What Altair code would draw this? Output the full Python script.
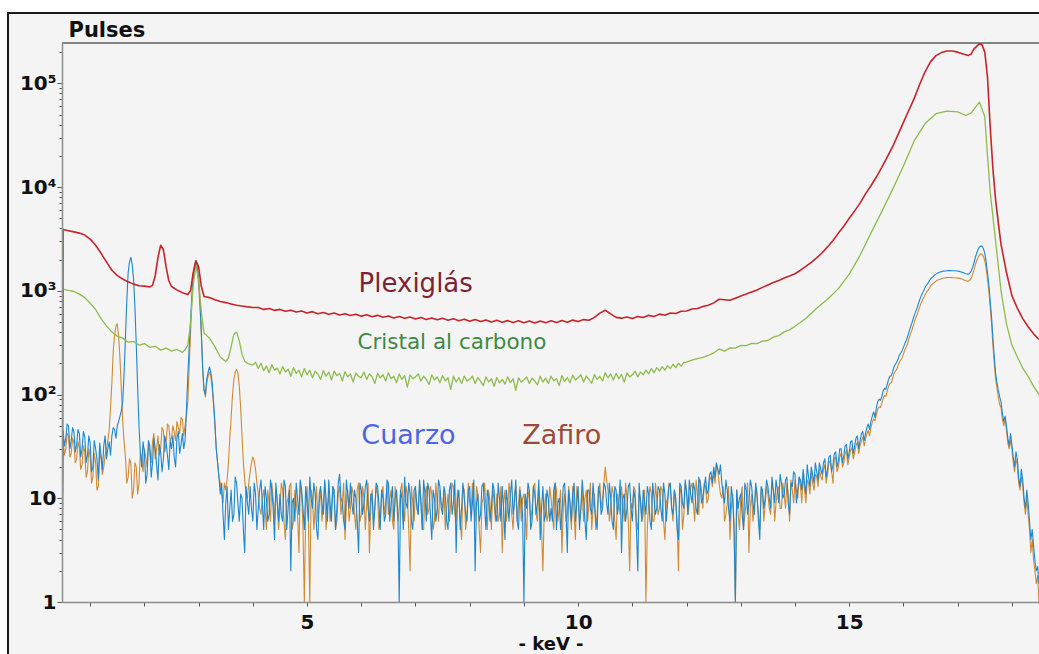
import altair as alt
import pandas as pd

# ---------------------------------------------------------------------------
# XRF background spectra of four sample holders (counts per channel vs keV)
# ---------------------------------------------------------------------------

# Cuarzo and Zafiro: channels every 0.05 keV from 0.5 keV, plus the
# intermediate channels (0.525, 0.575, ...) held in the *_MID lists
GRID_START = 0.5
GRID_STEP = 0.05
EDGE_KEV = 0.48  # first (empty) channel at the left edge of the window

CUARZO = [
    45, 38, 50, 36, 44, 33, 42, 30, 39, 26, 34, 20, 30, 15, 26, 32, 24, 35, 40, 46,
    50, 62, 85, 350, 1500, 2100, 1300, 300, 50, 20, 28, 17, 32, 22, 30, 15, 28, 24, 34, 19,
    30, 25, 38, 27, 42, 36, 150, 500, 1400, 1950, 1300, 400, 110, 140, 185, 130, 55, 22, 11, 7,
    9, 5, 12, 7, 14, 6, 10, 3, 9, 13, 6, 11, 8, 15, 5, 10, 7, 12, 4, 9,
    11, 6, 13, 8, 2, 10, 14, 7, 12, 5, 9, 16, 8, 11, 4, 13, 7, 10, 15, 6,
    12, 8, 17, 9, 5, 11, 14, 7, 10, 3, 12, 9, 15, 6, 11, 8, 13, 5, 10, 7,
    14, 9, 6, 12, 1, 10, 16, 8, 11, 5, 13, 7, 9, 15, 6, 12, 4, 10, 8, 13,
    7, 11, 5, 14, 9, 3, 12, 8, 10, 6, 13, 9, 2, 11, 7, 14, 5, 10, 8, 12,
    6, 10, 13, 4, 9, 11, 7, 15, 5, 10, 1, 8, 12, 6, 11, 9, 4, 13, 7, 10,
    8, 12, 5, 10, 7, 14, 3, 9, 11, 6, 13, 8, 10, 4, 12, 7, 9, 5, 11, 8,
    13, 7, 10, 5, 12, 9, 3, 11, 8, 14, 6, 10, 2, 9, 12, 7, 11, 5, 10, 8,
    12, 6, 11, 9, 14, 7, 10, 4, 13, 8, 11, 15, 9, 12, 7, 14, 10, 16, 12, 18,
    20, 22, 17, 14, 9, 12, 6, 10, 1, 8, 11, 5, 12, 9, 13, 7, 11, 4, 12, 10,
    13, 8, 12, 15, 9, 14, 11, 16, 7, 13, 17, 12, 15, 19, 11, 16, 20, 14, 18, 22,
    17, 24, 19, 26, 21, 28, 23, 30, 26, 33, 28, 36, 32, 40, 36, 44, 42, 52, 55, 68,
    75, 90, 95, 115, 125, 150, 165, 195, 220, 250, 285, 330, 400, 480, 580, 680, 820, 950, 1080, 1180,
    1300, 1380, 1450, 1500, 1530, 1550, 1560, 1570, 1560, 1560, 1550, 1530, 1500, 1460, 1450, 1550, 1850, 2300, 2650, 2700,
    2300, 1500, 800, 350, 160, 110, 85, 55, 50, 32, 33, 20, 24, 13, 15, 8, 9, 4, 3.5, 2,
    1.5,
]

CUARZO_MID = [
    32, 52, 30, 48, 28, 46, 25, 44, 22, 40, 18, 36, 24, 34, 19, 40, 30, 26, 48, 38,
    55, 70, 160, 800, 1900, 1800, 700, 120, 28, 35, 14, 36, 16, 38, 21, 33, 18, 40, 26, 36,
    40, 20, 44, 33, 30, 70, 280, 900, 1800, 1700, 800, 180, 100, 165, 165, 85, 30, 16, 14, 4,
    13, 8, 6, 16, 9, 11, 5, 13, 7, 8, 14, 5, 12, 9, 13, 6, 15, 8, 14, 6,
    7, 15, 5, 12, 9, 6, 10, 15, 8, 13, 6, 10, 14, 5, 11, 9, 15, 6, 9, 13,
    5, 14, 10, 6, 15, 8, 9, 12, 6, 14, 7, 13, 8, 11, 5, 14, 9, 12, 6, 15,
    6, 13, 10, 7, 12, 5, 9, 14, 6, 12, 8, 15, 5, 11, 14, 7, 12, 6, 15, 8,
    13, 6, 12, 7, 15, 10, 5, 14, 7, 12, 6, 15, 9, 6, 13, 8, 12, 6, 14, 7,
    14, 6, 8, 12, 6, 15, 9, 6, 12, 7, 11, 14, 5, 13, 7, 15, 8, 6, 12, 6,
    6, 14, 9, 5, 13, 8, 12, 6, 14, 9, 5, 15, 6, 12, 8, 14, 6, 13, 7, 14,
    9, 14, 6, 13, 7, 15, 10, 6, 13, 8, 12, 5, 14, 6, 9, 13, 6, 14, 7, 13,
    8, 14, 6, 13, 8, 12, 5, 14, 9, 15, 7, 11, 14, 8, 16, 9, 13, 11, 17, 14,
    16, 19, 21, 11, 15, 8, 13, 5, 12, 10, 7, 14, 7, 15, 9, 14, 6, 13, 8, 15,
    10, 16, 9, 12, 17, 10, 15, 9, 14, 18, 9, 16, 12, 14, 21, 13, 17, 22, 15, 19,
    22, 16, 25, 18, 27, 20, 30, 22, 32, 24, 35, 27, 38, 30, 42, 36, 48, 46, 62, 60,
    85, 88, 108, 112, 140, 152, 185, 205, 240, 265, 310, 360, 440, 530, 630, 750, 890, 1010, 1130, 1240,
    1340, 1420, 1480, 1520, 1540, 1555, 1565, 1565, 1560, 1555, 1540, 1515, 1480, 1450, 1490, 1680, 2100, 2500, 2700, 2550,
    1900, 1150, 560, 230, 130, 95, 65, 62, 38, 42, 25, 28, 16, 19, 10, 12, 6, 5, 2.5, 2.2,
]

ZAFIRO = [
    36, 30, 40, 27, 34, 24, 31, 21, 28, 18, 25, 16, 22, 13, 24, 20, 30, 45, 130, 380,
    480, 220, 55, 25, 16, 22, 12, 20, 14, 24, 30, 20, 28, 35, 24, 40, 30, 45, 34, 50,
    38, 44, 55, 42, 58, 50, 85, 380, 1250, 1750, 1150, 380, 110, 130, 165, 115, 50, 22, 14, 9,
    12, 22, 60, 140, 175, 120, 40, 15, 10, 18, 25, 19, 11, 7, 12, 5, 9, 14, 6, 10,
    8, 12, 4, 10, 14, 6, 9, 3, 11, 1, 13, 1, 10, 8, 6, 12, 9, 5, 11, 8,
    10, 6, 13, 9, 4, 12, 8, 11, 5, 14, 7, 10, 9, 3, 12, 8, 11, 6, 13, 9,
    7, 12, 5, 10, 8, 14, 6, 11, 2, 9, 12, 7, 10, 5, 13, 8, 11, 6, 9, 12,
    8, 5, 11, 9, 13, 6, 10, 4, 12, 7, 9, 14, 6, 11, 3, 10, 8, 12, 5, 9,
    11, 7, 3, 12, 8, 10, 5, 13, 9, 6, 11, 4, 10, 8, 14, 6, 9, 2, 11, 7,
    10, 5, 12, 8, 3, 11, 7, 9, 13, 4, 10, 8, 6, 12, 9, 5, 11, 7, 14, 10,
    20, 12, 8, 11, 4, 9, 13, 6, 10, 2, 8, 12, 5, 10, 7, 1, 9, 11, 6, 10,
    8, 12, 4, 10, 13, 6, 9, 2, 11, 7, 12, 9, 14, 6, 11, 15, 8, 13, 10, 16,
    18, 21, 14, 10, 6, 9, 4, 11, 1, 7, 10, 5, 9, 3, 11, 8, 10, 5, 11, 9,
    11, 7, 12, 9, 13, 8, 11, 14, 6, 12, 15, 10, 13, 17, 9, 14, 18, 12, 16, 19,
    15, 21, 17, 23, 14, 25, 20, 27, 22, 29, 25, 31, 28, 35, 32, 39, 37, 45, 48, 58,
    64, 76, 82, 98, 108, 128, 142, 168, 190, 215, 245, 285, 345, 410, 500, 585, 700, 810, 920, 1010,
    1110, 1180, 1240, 1280, 1310, 1330, 1340, 1345, 1340, 1335, 1325, 1310, 1285, 1250, 1240, 1320, 1580, 1950, 2200, 2250,
    1950, 1300, 700, 300, 140, 95, 75, 50, 45, 30, 30, 18, 21, 12, 13, 7, 7, 3, 2.5, 1.5,
    1,
]

ZAFIRO_MID = [
    26, 42, 25, 38, 22, 35, 19, 32, 16, 30, 14, 27, 12, 28, 17, 26, 36, 75, 260, 460,
    360, 110, 35, 14, 24, 10, 22, 11, 28, 18, 25, 33, 22, 42, 30, 26, 48, 28, 52, 36,
    50, 36, 48, 60, 40, 62, 180, 800, 1600, 1550, 700, 170, 95, 150, 150, 80, 30, 16, 11, 14,
    15, 38, 100, 165, 160, 75, 22, 11, 14, 22, 23, 14, 8, 10, 8, 12, 6, 10, 12, 5,
    14, 6, 9, 13, 5, 12, 7, 14, 5, 8, 6, 12, 5, 13, 9, 6, 14, 8, 6, 13,
    5, 11, 7, 14, 9, 6, 13, 7, 12, 6, 13, 5, 14, 8, 6, 13, 5, 11, 7, 14,
    10, 6, 13, 6, 12, 8, 13, 5, 13, 6, 9, 14, 5, 11, 7, 13, 5, 14, 6, 9,
    12, 8, 6, 14, 7, 12, 6, 13, 5, 14, 7, 8, 13, 5, 9, 14, 5, 9, 13, 6,
    6, 13, 9, 6, 14, 7, 11, 6, 13, 10, 7, 12, 6, 13, 7, 12, 5, 8, 6, 13,
    7, 14, 6, 12, 8, 6, 13, 5, 7, 13, 6, 12, 10, 6, 14, 8, 5, 12, 8, 14,
    15, 6, 13, 6, 11, 7, 9, 14, 6, 9, 13, 6, 11, 6, 12, 5, 13, 6, 14, 7,
    13, 6, 9, 14, 8, 12, 6, 13, 5, 14, 7, 13, 9, 15, 7, 12, 14, 9, 15, 13,
    14, 19, 11, 13, 7, 13, 8, 6, 12, 5, 13, 7, 14, 8, 6, 13, 7, 12, 6, 13,
    8, 14, 6, 12, 8, 14, 8, 11, 15, 9, 12, 16, 9, 12, 15, 11, 14, 17, 13, 16,
    19, 14, 22, 18, 24, 18, 25, 20, 27, 21, 29, 24, 32, 27, 36, 32, 42, 40, 54, 56,
    72, 75, 92, 96, 120, 130, 158, 175, 205, 225, 270, 305, 380, 450, 545, 640, 760, 860, 970, 1060,
    1150, 1210, 1265, 1295, 1320, 1335, 1343, 1343, 1338, 1330, 1318, 1300, 1265, 1240, 1270, 1440, 1780, 2100, 2280, 2150,
    1650, 1000, 480, 200, 115, 80, 58, 58, 34, 36, 22, 24, 14, 16, 9, 10, 5, 4, 2, 1.8,
]

# Plexiglás: (keV, counts)
PLEXIGLAS = [
    (0.48, 1), (0.5, 3900), (0.6, 3800), (0.7, 3700), (0.8, 3600), (0.9, 3450),
    (1.0, 3150), (1.1, 2750), (1.2, 2300), (1.3, 1900), (1.4, 1580), (1.5, 1400),
    (1.6, 1300), (1.7, 1220), (1.8, 1160), (1.9, 1120), (2.0, 1110), (2.1, 1090),
    (2.15, 1130), (2.2, 1400), (2.25, 2100), (2.3, 2750), (2.35, 2500), (2.4, 1700),
    (2.45, 1250), (2.5, 1100), (2.6, 1020), (2.7, 960), (2.8, 920), (2.85, 1000),
    (2.9, 1500), (2.95, 1950), (3.0, 1700), (3.05, 1100), (3.1, 880), (3.2, 860),
    (3.3, 820), (3.4, 790), (3.5, 770), (3.6, 745), (3.7, 725), (3.8, 715),
    (3.9, 700), (4.0, 690), (4.1, 690), (4.2, 662), (4.3, 676), (4.4, 648),
    (4.5, 662), (4.6, 636), (4.7, 650), (4.8, 625), (4.9, 640), (5.0, 612),
    (5.1, 630), (5.2, 602), (5.3, 618), (5.4, 594), (5.5, 610), (5.6, 585),
    (5.7, 602), (5.8, 578), (5.9, 594), (6.0, 570), (6.1, 588), (6.2, 562),
    (6.3, 580), (6.4, 556), (6.5, 572), (6.6, 548), (6.7, 566), (6.8, 543),
    (6.9, 560), (7.0, 536), (7.1, 554), (7.2, 530), (7.3, 548), (7.4, 526),
    (7.5, 543), (7.6, 520), (7.7, 538), (7.8, 515), (7.9, 533), (8.0, 510),
    (8.1, 528), (8.2, 506), (8.3, 524), (8.4, 500), (8.5, 520), (8.6, 497),
    (8.7, 516), (8.8, 494), (8.9, 514), (9.0, 492), (9.1, 512), (9.2, 490),
    (9.3, 512), (9.4, 492), (9.5, 514), (9.6, 495), (9.7, 518), (9.8, 498),
    (9.9, 522), (10.0, 505), (10.1, 528), (10.2, 520), (10.3, 555), (10.4, 610),
    (10.5, 650), (10.6, 600), (10.7, 555), (10.8, 545), (10.9, 560), (11.0, 540),
    (11.1, 566), (11.2, 552), (11.3, 580), (11.4, 565), (11.5, 596), (11.6, 582),
    (11.7, 612), (11.8, 605), (11.9, 635), (12.0, 640), (12.1, 668), (12.2, 675),
    (12.3, 705), (12.4, 725), (12.5, 765), (12.6, 830), (12.7, 820), (12.8, 810),
    (12.9, 850), (13.0, 890), (13.1, 930), (13.2, 975), (13.3, 1020), (13.4, 1080),
    (13.5, 1140), (13.6, 1200), (13.7, 1260), (13.8, 1330), (13.9, 1390), (14.0, 1460),
    (14.1, 1580), (14.2, 1720), (14.3, 1880), (14.4, 2080), (14.5, 2330), (14.6, 2650),
    (14.7, 3050), (14.8, 3600), (14.9, 4200), (15.0, 5000), (15.1, 5900), (15.2, 7000),
    (15.3, 8600), (15.4, 10300), (15.5, 12500), (15.6, 15500), (15.7, 19500), (15.8, 24500),
    (15.9, 32000), (16.0, 42000), (16.1, 55000), (16.2, 72000), (16.3, 98000), (16.4, 130000),
    (16.5, 162000), (16.6, 185000), (16.7, 198000), (16.8, 205000), (16.9, 205000), (17.0, 200000),
    (17.1, 192000), (17.2, 186000), (17.25, 192000), (17.3, 215000), (17.4, 240000), (17.45, 235000),
    (17.5, 200000), (17.55, 115000), (17.6, 38000), (17.65, 15000), (17.7, 7500), (17.75, 4500),
    (17.8, 2800), (17.9, 1500), (18.0, 900), (18.1, 680), (18.2, 540), (18.3, 450),
    (18.4, 385), (18.5, 340),
]

# Cristal al carbono: (keV, counts) outside the flat stretch
CRISTAL = [
    (0.48, 1), (0.5, 1040), (0.6, 1010), (0.7, 985), (0.8, 930), (0.9, 860),
    (1.0, 760), (1.1, 660), (1.2, 540), (1.3, 460), (1.4, 400), (1.5, 365),
    (1.6, 350), (1.7, 320), (1.8, 325), (1.9, 300), (2.0, 310), (2.1, 285),
    (2.2, 292), (2.3, 268), (2.4, 280), (2.5, 262), (2.6, 272), (2.7, 255),
    (2.75, 270), (2.8, 300), (2.85, 480), (2.9, 1150), (2.95, 1750), (3.0, 1300),
    (3.05, 620), (3.1, 390), (3.15, 370), (3.2, 350), (3.3, 290), (3.4, 230),
    (3.5, 208), (3.55, 225), (3.6, 290), (3.65, 380), (3.7, 400), (3.75, 330),
    (3.8, 245), (3.85, 210), (3.9, 200), (4.0, 192),
    (12.0, 205), (12.1, 215), (12.2, 222), (12.3, 228), (12.4, 238), (12.5, 252),
    (12.6, 275), (12.7, 262), (12.8, 282), (12.9, 280), (13.0, 298), (13.1, 296),
    (13.2, 312), (13.3, 310), (13.4, 328), (13.5, 332), (13.6, 358), (13.7, 370),
    (13.8, 402), (13.9, 420), (14.0, 455), (14.2, 540), (14.4, 680), (14.6, 830),
    (14.8, 1050), (15.0, 1450), (15.2, 2200), (15.4, 3600), (15.6, 5800), (15.8, 9500),
    (16.0, 16000), (16.2, 28000), (16.4, 41000), (16.6, 51000), (16.8, 54000), (17.0, 53000),
    (17.15, 49000), (17.25, 52000), (17.4, 66000), (17.5, 48000), (17.55, 20000), (17.6, 9000),
    (17.7, 3000), (17.8, 1000), (17.9, 480), (18.0, 300), (18.1, 230), (18.2, 180),
    (18.3, 150), (18.4, 120), (18.5, 100),
]

# Cristal al carbono, flat stretch: channels every 0.05 keV from 4.05 keV
CRISTAL_FLAT_START = 4.05
CRISTAL_FLAT = [
    205, 178, 200, 170, 188, 162, 194, 172, 180, 158, 186, 165, 176, 150, 182, 160, 172, 148, 178, 155,
    172, 145, 168, 158, 140, 170, 150, 165, 138, 168, 152, 160, 135, 166, 148, 158, 132, 162, 150, 145,
    165, 140, 158, 148, 128, 160, 145, 155, 135, 162, 142, 150, 130, 158, 140, 152, 118, 155, 142, 148,
    158, 135, 150, 140, 125, 155, 138, 148, 130, 152, 136, 145, 112, 150, 132, 146, 128, 150, 135, 140,
    150, 128, 146, 134, 122, 148, 132, 142, 120, 146, 130, 140, 126, 148, 130, 142, 110, 145, 132, 138,
    148, 128, 144, 135, 124, 150, 132, 144, 128, 150, 136, 142, 122, 152, 134, 146, 130, 154, 138, 145,
    155, 132, 150, 140, 128, 156, 140, 150, 135, 162, 145, 158, 138, 160, 142, 156, 132, 162, 148, 155,
    168, 148, 165, 155, 172, 158, 178, 162, 182, 168, 186, 172, 190, 178, 196, 182, 200, 188, 204,
]

# In-plot captions
LABEL_TEXT = ["Plexiglás", "Cristal al carbono", "Cuarzo", "Zafiro"]
LABEL_KEV = [5.95, 5.93, 6.0, 8.97]
LABEL_CPS = [968, 272, 33, 33]

# ---------------------------------------------------------------------------
# styling
# ---------------------------------------------------------------------------
LABEL_COLORS = ["#7b2433", "#3c8a43", "#4b64e8", "#9c4b3b"]
LABEL_SIZES = [26, 21.5, 27, 27]

W, H = 977, 559
FONT = "DejaVu Sans"

x_scale = alt.Scale(domain=[EDGE_KEV, 18.5], nice=False, zero=False)
y_scale = alt.Scale(type="log", domain=[1, 245000], nice=False)

major_test = (
    "datum.value == 1 || datum.value == 10 || datum.value == 100 || "
    "datum.value == 1000 || datum.value == 10000 || datum.value == 100000"
)
y_ticks = [m * 10 ** e for e in range(5) for m in range(1, 10)] + [100000, 200000]

y_axis = alt.Axis(
    orient="left",
    values=y_ticks,
    labelExpr=(
        "datum.value == 1 ? '1' : datum.value == 10 ? '10' : "
        "datum.value == 100 ? '10²' : datum.value == 1000 ? '10³' : "
        "datum.value == 10000 ? '10⁴' : datum.value == 100000 ? '10⁵' : ''"
    ),
    tickSize={"condition": {"test": major_test, "value": 5}, "value": 3},
    tickColor="#555555",
    tickWidth=1,
    domainColor="#8f9595",
    domainWidth=1.6,
    labelFont=FONT,
    labelFontWeight="bold",
    labelFontSize=20,
    labelColor="#111111",
    labelPadding=1,
    labelOverlap=False,
    labelFlush=False,
    grid=False,
    title="Pulses",
    titleAngle=0,
    titleAlign="left",
    titleBaseline="alphabetic",
    titleX=6,
    titleY=-7,
    titleFont=FONT,
    titleFontWeight="bold",
    titleFontSize=21,
    titleColor="#111111",
    zindex=1,
)

x_axis = alt.Axis(
    orient="bottom",
    values=list(range(1, 19)),
    labelExpr="datum.value % 5 == 0 ? datum.label : ''",
    tickSize=4,
    tickColor="#555555",
    tickWidth=1,
    domainColor="#8c8c8c",
    domainWidth=1.5,
    labelFont=FONT,
    labelFontWeight="bold",
    labelFontSize=20,
    labelColor="#111111",
    labelPadding=6,
    labelOverlap=False,
    labelFlush=False,
    grid=False,
    title="- keV -",
    titleFont=FONT,
    titleFontWeight="bold",
    titleFontSize=18,
    titleColor="#111111",
    titleY=47,
    titleBaseline="alphabetic",
    zindex=1,
)


def channel_frame(values, mid_values):
    kev = [EDGE_KEV]
    kev += [round(GRID_START + GRID_STEP * i, 3) for i in range(len(values))]
    kev += [round(GRID_START + GRID_STEP * (i + 0.5), 3) for i in range(len(mid_values))]
    cps = [1] + list(values) + list(mid_values)
    return pd.DataFrame({"keV": kev, "cps": cps}).sort_values("keV")


def pair_frame(pairs, flat_start=None, flat=()):
    kev = [p[0] for p in pairs] + [round(flat_start + GRID_STEP * i, 3) for i in range(len(flat))] if flat else [p[0] for p in pairs]
    cps = [p[1] for p in pairs] + list(flat)
    return pd.DataFrame({"keV": kev, "cps": cps}).sort_values("keV")


def spectrum(df, color, width):
    return alt.Chart(df).mark_line(
        color=color, strokeWidth=width, strokeJoin="round", clip=True
    ).encode(
        x=alt.X("keV:Q", scale=x_scale, axis=x_axis),
        y=alt.Y("cps:Q", scale=y_scale, axis=y_axis),
    )


one_row = pd.DataFrame({"k": [0]})

# outer frame of the instrument window
frame = alt.Chart(one_row).mark_rect(
    fill="#f4f4f4", stroke="#1a1a1a", strokeWidth=2
).encode(
    x=alt.value(-54), x2=alt.value(W + 100), y=alt.value(-30), y2=alt.value(H + 120)
)

# upper border of the plotting area
top_border = alt.Chart(one_row).mark_rule(color="#5c5c5c", strokeWidth=1.5).encode(
    x=alt.value(0), x2=alt.value(W + 10), y=alt.value(0)
)

zafiro = spectrum(channel_frame(ZAFIRO, ZAFIRO_MID), "#cf8a35", 1.1)
cuarzo = spectrum(channel_frame(CUARZO, CUARZO_MID), "#1c87d0", 1.1)
cristal = spectrum(pair_frame(CRISTAL, CRISTAL_FLAT_START, CRISTAL_FLAT), "#8fbb4e", 1.3)
plexi = spectrum(pair_frame(PLEXIGLAS), "#c8232c", 1.6)

labels_df = pd.DataFrame(
    {
        "text": LABEL_TEXT,
        "keV": LABEL_KEV,
        "cps": LABEL_CPS,
        "color": LABEL_COLORS,
        "size": LABEL_SIZES,
    }
)

labels = alt.Chart(labels_df).mark_text(
    align="left", baseline="alphabetic", font=FONT
).encode(
    x=alt.X("keV:Q", scale=x_scale, axis=x_axis),
    y=alt.Y("cps:Q", scale=y_scale, axis=y_axis),
    text="text:N",
    color=alt.Color("color:N", scale=None),
    size=alt.Size("size:Q", scale=None),
)

chart = (
    alt.layer(frame, top_border, zafiro, cuarzo, cristal, plexi, labels)
    .properties(
        width=W,
        height=H,
        autosize=alt.AutoSizeParams(type="none"),
        padding={"left": 62, "top": 43, "right": 0, "bottom": 52},
        background="white",
    )
    .configure_view(fill="#f4f4f4", strokeWidth=0)
)

chart.save("out.html", embed_options={"renderer": "svg", "actions": False})
